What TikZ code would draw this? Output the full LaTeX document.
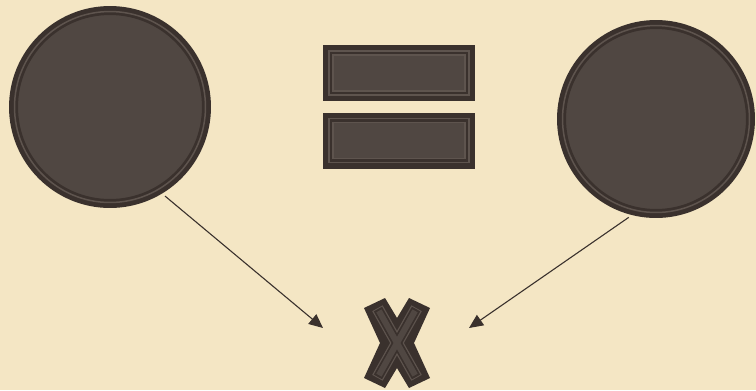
\documentclass[tikz,border=0pt]{standalone}
\usetikzlibrary{arrows.meta}
\definecolor{paper}{RGB}{244,230,196}
\definecolor{rim}{RGB}{58,49,45}
\definecolor{body}{RGB}{80,71,66}
\definecolor{seam}{RGB}{94,84,78}
\begin{document}
\begin{tikzpicture}[x=0.02cm, y=-0.02cm,
  disc/.style={circle, fill=body, draw=rim, line width=0.18cm, inner sep=0},
  bar/.style={rectangle, fill=body, draw=rim, line width=0.2cm, inner sep=0,
    minimum width=2.84cm, minimum height=0.92cm},
  seamline/.style={draw=seam, line width=0.03cm},
  armseam/.style={draw=seam, line width=0.24cm, shorten <=0.12cm, shorten >=0.12cm},
  armrim/.style={draw=rim, line width=0.19cm, shorten <=0.14cm, shorten >=0.14cm},
  armbody/.style={draw=body, line width=0.12cm, shorten <=0.18cm, shorten >=0.18cm},
  link/.style={draw=rim, line width=0.022cm, shorten <=0.08cm,
    -{Triangle[length=0.28cm,width=0.25cm]}}]
\fill[paper] (0,0) rectangle (756,390);
\useasboundingbox (0,0) rectangle (756,390);
% left and right discs
\node[disc, minimum size=3.86cm] (l) at (110,107) {};
\node[disc, minimum size=3.78cm] (r) at (656,119) {};
\draw[seamline] (l) circle (1.91cm);
\draw[seamline] (r) circle (1.87cm);
% equals sign
\node[bar] (t) at (399,73) {};
\node[bar] (b) at (399,140.5) {};
\draw[seamline] ([xshift=0.12cm,yshift=-0.12cm]t.north west) rectangle ([xshift=-0.12cm,yshift=0.12cm]t.south east);
\draw[seamline] ([xshift=0.2cm,yshift=-0.2cm]t.north west) rectangle ([xshift=-0.2cm,yshift=0.2cm]t.south east);
\draw[seamline] ([xshift=0.12cm,yshift=-0.12cm]b.north west) rectangle ([xshift=-0.12cm,yshift=0.12cm]b.south east);
\draw[seamline] ([xshift=0.2cm,yshift=-0.2cm]b.north west) rectangle ([xshift=-0.2cm,yshift=0.2cm]b.south east);
% cross
\coordinate (x) at (397,343);
\begin{scope}[shift={(x)}]
\fill[rim] (-33,-35) -- (-12,-45) -- (0,-25) -- (12,-45) -- (33,-35) -- (17,0)
  -- (33,35) -- (12,45) -- (0,25) -- (-12,45) -- (-33,35) -- (-17,0) -- cycle;
\draw[armseam] (-22.5,-40) -- (22.5,40);
\draw[armseam] (22.5,-40) -- (-22.5,40);
\draw[armrim] (-22.5,-40) -- (22.5,40);
\draw[armrim] (22.5,-40) -- (-22.5,40);
\draw[armbody] (-22.5,-40) -- (22.5,40);
\draw[armbody] (22.5,-40) -- (-22.5,40);
\end{scope}
% arrows into the cross
\coordinate (xl) at (323,328);
\coordinate (xr) at (469,328);
\draw[link] (l.-59) -- (xl);
\draw[link] (r.-104) -- (xr);
\end{tikzpicture}
\end{document}
